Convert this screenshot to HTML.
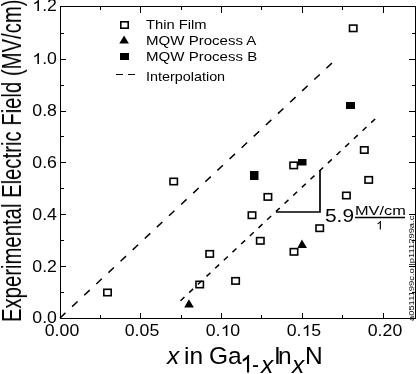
<!DOCTYPE html>
<html><head><meta charset="utf-8">
<style>
html,body{margin:0;padding:0;background:#fff;}
body{width:416px;height:374px;position:relative;overflow:hidden;font-family:"Liberation Sans",sans-serif;color:#000;}
.t{position:absolute;white-space:nowrap;line-height:1;will-change:transform;}
.yl{font-size:15.8px;right:358.9px;transform-origin:right center;transform:scaleX(1.12);text-align:right;}
.xl{font-size:15.8px;width:60px;text-align:center;transform:scaleX(1.12);transform-origin:center center;}
.lg{font-size:12.6px;left:146px;transform-origin:left top;transform:scaleX(1.17);}
svg.bg{position:absolute;left:0;top:0;}
.one{display:inline-block;width:0.556em;height:0.71875em;vertical-align:baseline;fill:currentColor;}
</style></head><body>
<svg class="bg" width="416" height="374" viewBox="0 0 416 374">
 <g stroke="#000" stroke-width="1" fill="none" shape-rendering="crispEdges">
  <rect x="60.5" y="6.5" width="355" height="311.5"/>
  <!-- bottom ticks -->
  <path d="M140.5 313V318M221.5 313V318M302.5 313V318M383.5 313V318M100.5 315V318M181.5 315V318M261.5 315V318M342.5 315V318"/>
  <!-- top ticks -->
  <path d="M140.5 7V13M221.5 7V13M302.5 7V13M383.5 7V13M100.5 7V10M181.5 7V10M261.5 7V10M342.5 7V10"/>
  <!-- left ticks -->
  <path d="M61 266.5H66M61 214.5H66M61 162.5H66M61 111.5H66M61 59.5H66M61 292.5H64M61 240.5H64M61 188.5H64M61 136.5H64M61 85.5H64M61 33.5H64"/>
  <!-- right ticks -->
  <path d="M409 266.5H415M409 214.5H415M409 162.5H415M409 111.5H415M409 59.5H415M412 292.5H415M412 240.5H415M412 188.5H415M412 136.5H415M412 85.5H415M412 33.5H415"/>
 </g>
 <!-- dashed lines -->
 <g stroke="#000" stroke-width="1.5" fill="none">
  <path d="M60 318L332.4 62.6" stroke-dasharray="7.5 9.1"/>
  <path d="M180.5 300.7L375.7 118.4" stroke-dasharray="5.4 6.46"/>
  <path d="M116 74.5H123M128 74.5H135" stroke-width="1.2"/>
 </g>
 <!-- slope triangle -->
 <path d="M276 212H320V170" stroke="#000" stroke-width="1.7" fill="none"/>
 <!-- fraction bar -->
 <path d="M355 217.5H405" stroke="#000" stroke-width="1.4"/>
 <!-- open squares -->
 <g stroke="#000" stroke-width="1.6" fill="none">
  <rect x="120.8" y="21.8" width="7.4" height="6.4"/>
  <rect x="103.8" y="289.3" width="7.4" height="6.4"/>
  <rect x="170.0" y="178.3" width="7.4" height="6.4"/>
  <rect x="196.0" y="281.3" width="7.4" height="6.4"/>
  <rect x="206.0" y="250.7" width="7.4" height="6.4"/>
  <rect x="231.9" y="277.7" width="7.4" height="6.4"/>
  <rect x="248.3" y="212.0" width="7.4" height="6.4"/>
  <rect x="256.6" y="237.6" width="7.4" height="6.4"/>
  <rect x="264.2" y="193.7" width="7.4" height="6.4"/>
  <rect x="290.0" y="162.2" width="7.4" height="6.4"/>
  <rect x="290.3" y="248.6" width="7.4" height="6.4"/>
  <rect x="316.0" y="225.0" width="7.4" height="6.4"/>
  <rect x="342.7" y="192.3" width="7.4" height="6.4"/>
  <rect x="360.6" y="146.8" width="7.4" height="6.4"/>
  <rect x="365.0" y="176.7" width="7.4" height="6.4"/>
  <rect x="349.5" y="25.1" width="7.4" height="6.4"/>
 </g>
 <g fill="#000">
  <rect x="120" y="53" width="9" height="7"/>
  <rect x="250" y="171" width="8.5" height="9"/>
  <rect x="298" y="159" width="8.5" height="6.5"/>
  <rect x="346" y="102" width="9" height="7"/>
  <path d="M124.1 35.6L128.9 43.4L119.3 43.4Z"/>
  <path d="M188.9 299.2L193.9 307.4L184.2 307.4Z"/>
  <path d="M301.9 239.6L307 248L297.4 248Z"/>
 </g>
</svg>

<div class="t yl" style="top:-1.7px"><svg class="one" viewBox="0 -1472 1139 1472"><path transform="scale(1,-1)" d="M763 0H583V1147Q518 1085 413 1023Q308 961 224 930V1104Q375 1175 488 1276Q601 1377 648 1472H763Z"/></svg>.2</div>
<div class="t yl" style="top:51.1px"><svg class="one" viewBox="0 -1472 1139 1472"><path transform="scale(1,-1)" d="M763 0H583V1147Q518 1085 413 1023Q308 961 224 930V1104Q375 1175 488 1276Q601 1377 648 1472H763Z"/></svg>.0</div>
<div class="t yl" style="top:103.4px">0.8</div>
<div class="t yl" style="top:155.0px">0.6</div>
<div class="t yl" style="top:207.0px">0.4</div>
<div class="t yl" style="top:258.9px">0.2</div>
<div class="t yl" style="top:310.4px">0.0</div>

<div class="t xl" style="left:32.4px;top:322.6px">0.00</div>
<div class="t xl" style="left:112.4px;top:322.6px">0.05</div>
<div class="t xl" style="left:192.9px;top:322.6px">0.<svg class="one" viewBox="0 -1472 1139 1472"><path transform="scale(1,-1)" d="M763 0H583V1147Q518 1085 413 1023Q308 961 224 930V1104Q375 1175 488 1276Q601 1377 648 1472H763Z"/></svg>0</div>
<div class="t xl" style="left:274.4px;top:322.6px">0.<svg class="one" viewBox="0 -1472 1139 1472"><path transform="scale(1,-1)" d="M763 0H583V1147Q518 1085 413 1023Q308 961 224 930V1104Q375 1175 488 1276Q601 1377 648 1472H763Z"/></svg>5</div>
<div class="t xl" style="left:354.9px;top:322.6px">0.20</div>

<div class="t lg" style="top:19.4px;left:146px;transform:scaleX(1.17)">Thin Film</div>
<div class="t lg" style="top:35.2px;left:145.5px;transform:scaleX(1.195)">MQW Process A</div>
<div class="t lg" style="top:50.6px;left:145.5px;transform:scaleX(1.195)">MQW Process B</div>
<div class="t lg" style="top:69.6px;left:146px;font-size:13.2px;transform:scaleX(1.09)">Interpolation</div>

<div class="t" style="left:-2.5px;top:322px;font-size:27.5px;transform-origin:0 0;transform:rotate(-90deg) scaleX(0.738)">Experimental Electric Field (MV/cm)</div>

<div class="t" style="left:0;top:0;font-size:24.5px">
<span class="t" style="left:167px;top:343.5px"><i>x</i></span>
<span class="t" style="left:184px;top:343.5px">in</span>
<span class="t" style="left:209px;top:343.5px">Ga</span>
<span class="t" style="left:240.2px;top:352.5px"><svg class="one" viewBox="0 -1472 1139 1472"><path transform="scale(1,-1)" d="M763 0H583V1147Q518 1085 413 1023Q308 961 224 930V1104Q375 1175 488 1276Q601 1377 648 1472H763Z"/></svg></span>
<span class="t" style="left:252px;top:352px;transform:scaleX(0.85);transform-origin:0 0">-</span>
<span class="t" style="left:261px;top:352.5px"><i>x</i></span>
<span class="t" style="left:274px;top:343.5px">I</span>
<span class="t" style="left:278px;top:343.5px">n</span>
<span class="t" style="left:292px;top:352.5px"><i>x</i></span>
<span class="t" style="left:305px;top:343.5px">N</span>
</div>

<div class="t" style="left:324.8px;top:207.2px;font-size:18.8px;transform-origin:0 0;transform:scaleX(1.11)">5.9</div>
<div class="t" style="left:355px;top:205.2px;font-size:12px;transform-origin:0 0;transform:scaleX(1.36)">MV/cm</div>
<div class="t" style="left:376px;top:220px;font-size:12px;transform-origin:0 0;transform:scaleX(1.1)"><svg class="one" viewBox="0 -1472 1139 1472"><path transform="scale(1,-1)" d="M763 0H583V1147Q518 1085 413 1023Q308 961 224 930V1104Q375 1175 488 1276Q601 1377 648 1472H763Z"/></svg></div>
<div class="t" style="left:407.5px;top:321px;font-size:7.4px;transform-origin:0 0;transform:rotate(-90deg) scaleX(1.267)">a0511199c.o.|p111299a.c</div>

</body></html>
